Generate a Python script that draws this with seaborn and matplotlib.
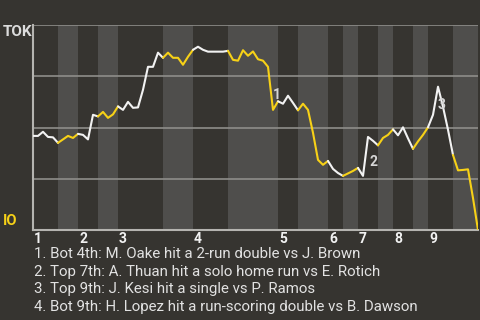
import matplotlib
matplotlib.use("Agg")
import matplotlib.pyplot as plt
import seaborn as sns
import pandas as pd

# ---------------- data ----------------
away_team = "TOK"
home_team = "IO"

# TOK win probability after each plate appearance (index 0 = first pitch)
win_prob = [
    0.459, 0.459, 0.479, 0.454, 0.452, 0.425,            # top 1
    0.442, 0.459, 0.449, 0.469,                          # bot 1
    0.464, 0.442, 0.562, 0.554,                          # top 2
    0.576, 0.547, 0.564, 0.603,                          # bot 2
    0.586, 0.625, 0.596, 0.598, 0.684, 0.796, 0.796, 0.865, 0.840,  # top 3
    0.865, 0.840, 0.840, 0.806, 0.845, 0.879,            # bot 3
    0.894, 0.879, 0.870, 0.870, 0.870, 0.870, 0.874,     # top 4
    0.830, 0.826, 0.877, 0.850, 0.871, 0.833, 0.826, 0.796, 0.586, 0.628,  # bot 4
    0.616, 0.655, 0.620, 0.584,                          # top 5
    0.616, 0.586, 0.474, 0.342, 0.318, 0.337,            # bot 5
    0.298, 0.278, 0.264,                                 # top 6
    0.276, 0.288, 0.303,                                 # bot 6
    0.264, 0.454, 0.435, 0.413,                          # top 7
    0.449, 0.464, 0.491,                                 # bot 7
    0.462, 0.501, 0.447, 0.396,                          # top 8
    0.432, 0.464, 0.501,                                 # bot 8
    0.562, 0.699, 0.601, 0.489, 0.366,                   # top 9
    0.291, 0.293, 0.296, 0.156, 0.000,                   # bot 9
]

# plate-appearance index at which each half inning ends
half_inning_ends = [5, 9, 13, 17, 26, 32, 39, 49, 53, 59, 62, 65, 69, 72, 76, 79, 84, 89]
inning_labels = ["1", "2", "3", "4", "5", "6", "7", "8", "9"]

key_events = [48, 67, 81]
key_labels = ["1", "2", "3"]
key_offsets = [(4, 15), (5, -25), (4, -18)]

captions = [
    "1. Bot 4th: M. Oake hit a 2-run double vs J. Brown",
    "2. Top 7th: A. Thuan hit a solo home run vs E. Rotich",
    "3. Top 9th: J. Kesi hit a single vs P. Ramos",
    "4. Bot 9th: H. Lopez hit a run-scoring double vs B. Dawson",
]

# ---------------- style ----------------
BG = "#363430"
BAND = "#4f4e4c"
GRID = "#8e8d8a"
WHITE = "#f2f2f2"
YELLOW = "#f7d117"
TEXT = "#e2e2e2"

sns.set_theme(style="dark")
plt.rcParams["font.family"] = ["Roboto", "DejaVu Sans"]

fig = plt.figure(figsize=(4.8, 3.2), dpi=100, facecolor=BG)
ax = fig.add_axes([33 / 480, 1 - 230 / 320, 445 / 480, 205 / 320])
ax.set_facecolor(BG)

df = pd.DataFrame({"pa": range(len(win_prob)), "wp": win_prob})

starts = [0] + half_inning_ends[:-1]
for i, (s, e) in enumerate(zip(starts, half_inning_ends)):
    top = (i % 2 == 0)
    ax.axvspan(s, e, color=BG if top else BAND, lw=0, zorder=0)
    seg = df[(df["pa"] >= s) & (df["pa"] <= e)]
    sns.lineplot(data=seg, x="pa", y="wp", ax=ax, color=WHITE if top else YELLOW,
                 linewidth=1.5, zorder=3, legend=False)

for yv in [0.25, 0.5, 0.75, 1.0]:
    ax.axhline(yv, color=GRID, lw=1.2, zorder=1)

ax.set_xlim(0, half_inning_ends[-1])
ax.set_ylim(0, 1)
ax.set_xticks([])
ax.set_yticks([])
ax.set_xlabel("")
ax.set_ylabel("")
ax.grid(False)
for side in ["top", "right"]:
    ax.spines[side].set_visible(False)
for side in ["left", "bottom"]:
    ax.spines[side].set_visible(True)
    ax.spines[side].set_color("#b5b4b0")
    ax.spines[side].set_linewidth(1.5)

# inning numbers
for j, lab in enumerate(inning_labels):
    ax.annotate(lab, (starts[2 * j], 0), xytext=(1, -2), textcoords="offset pixels",
                ha="left", va="top", color=WHITE, fontsize=10, fontweight="bold",
                annotation_clip=False)

# key event markers
for ev, lab, off in zip(key_events, key_labels, key_offsets):
    ax.annotate(lab, (ev, win_prob[ev]), xytext=off, textcoords="offset pixels",
                ha="center", va="center", color="#d6d6d6", fontsize=10,
                fontweight="bold", zorder=5)

# team labels
fig.text(3 / 480, 1 - 25 / 320, away_team, ha="left", va="top", color="#dcdcdc",
         fontsize=11, fontweight="bold")
fig.text(3 / 480, 1 - 225 / 320, home_team, ha="left", va="baseline", color=YELLOW,
         fontsize=10.5, fontweight="bold")

# captions
for i, cap in enumerate(captions):
    fig.text(34 / 480, 1 - (258 + 17.6 * i) / 320, cap, ha="left", va="baseline",
             color=TEXT, fontsize=10.8)

fig.savefig("out.png", dpi=100, facecolor=BG)
